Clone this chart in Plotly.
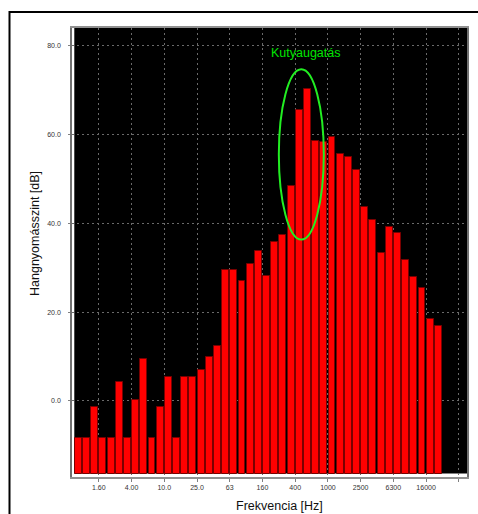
import plotly.graph_objects as go

# third-octave band centre frequencies (Hz)
bands = ["0.80", "1.00", "1.25", "1.60", "2.00", "2.50", "3.15", "4.00", "5.00", "6.30",
         "8.00", "10.0", "12.5", "16.0", "20.0", "25.0", "31.5", "40.0", "50.0", "63",
         "80", "100", "125", "160", "200", "250", "315", "400", "500", "630",
         "800", "1000", "1250", "1600", "2000", "2500", "3150", "4000", "5000", "6300",
         "8000", "10000", "12500", "16000", "20000"]
levels = [-8.3, -8.3, -1.3, -8.3, -8.3, 4.2, -8.3, 0.3, 9.5, -8.3,
          -1.3, 5.4, -8.3, 5.4, 5.4, 7.0, 10.0, 12.3, 29.5, 29.5,
          27.1, 30.9, 33.7, 28.2, 35.8, 37.3, 48.4, 65.5, 70.2, 58.4,
          58.3, 59.3, 55.5, 54.9, 52.0, 43.7, 40.7, 33.3, 39.1, 37.7,
          31.7, 27.9, 25.4, 18.4, 16.9]
tick_labels = ["1.60", "4.00", "10.0", "25.0", "63", "160", "400", "1000", "2500", "6300", "16000", ""]
tick_pos = [3, 7, 11, 15, 19, 23, 27, 31, 35, 39, 43, 47]
y_ticks = [0, 20, 40, 60, 80]
y_tick_text = ["0.0", "20.0", "40.0", "60.0", "80.0"]
floor = -16.34

W, H = 478, 514
L, R, T, B = 72, 11, 28, 37
pw, ph = W - L - R, H - T - B

def px(x):
    return (x - L) / pw

def py(y):
    return (H - B - y) / ph

xs = [i + 0.5 for i in range(len(levels))]
fig = go.Figure()
fig.add_trace(go.Bar(
    x=xs, y=[v - floor for v in levels], base=[floor] * len(levels),
    width=0.84,
    marker=dict(color="#ff0000", line=dict(color="#7a0000", width=1)),
    hovertext=bands,
))

fig.update_layout(
    template="none",
    width=W, height=H,
    margin=dict(l=L, r=R, t=T, b=B),
    paper_bgcolor="white", plot_bgcolor="white",
    showlegend=False, bargap=0,
    font=dict(family="Liberation Sans, Arial", color="#333333"),
    xaxis=dict(range=[-0.28, 48], tickvals=tick_pos, ticktext=tick_labels,
               showgrid=True, gridcolor="#6a6a6a", griddash="2px,3px", gridwidth=1,
               ticks="outside", ticklen=3, tickcolor="#808080",
               showline=True, linecolor="#909090", linewidth=2, mirror=True,
               tickfont=dict(size=7, color="#333333"), zeroline=False),
    yaxis=dict(range=[-17.1, 83.9], tickvals=y_ticks, ticktext=y_tick_text,
               showgrid=True, gridcolor="#6a6a6a", griddash="2px,3px", gridwidth=1,
               ticks="outside", ticklen=2, tickcolor="#808080", ticklabelstandoff=6,
               showline=True, linecolor="#707070", linewidth=1.5, mirror=True,
               tickfont=dict(size=7, color="#333333"), zeroline=False),
    shapes=[
        dict(type="rect", xref="x", yref="y", x0=0, x1=48, y0=floor, y1=83.9,
             fillcolor="black", line=dict(width=0), layer="below"),
        dict(type="circle", xref="x", yref="y", x0=25.0, x1=30.5, y0=36.3, y1=74.6,
             line=dict(color="#22ee22", width=2)),
        dict(type="rect", xref="paper", yref="paper", x0=px(9.5), x1=px(700),
             y0=py(800), y1=py(12), line=dict(color="black", width=2)),
    ],
    annotations=[
        dict(text="Kutyaugatás", x=28.3, y=78.3, xref="x", yref="y", showarrow=False,
             xanchor="center", yanchor="middle",
             font=dict(size=12.5, color="#00e600", family="Liberation Sans, Arial")),
        dict(text="Hangnyomásszint [dB]", x=px(35), y=py(234), xref="paper", yref="paper",
             showarrow=False, textangle=-90, xanchor="center", yanchor="middle",
             font=dict(size=12.5, color="#111111", family="Liberation Sans, Arial")),
        dict(text="Frekvencia [Hz]", x=px(279), y=py(505.5), xref="paper", yref="paper",
             showarrow=False, xanchor="center", yanchor="middle",
             font=dict(size=12.5, color="#111111", family="Liberation Sans, Arial")),
    ],
)

fig.write_html("out.html")
